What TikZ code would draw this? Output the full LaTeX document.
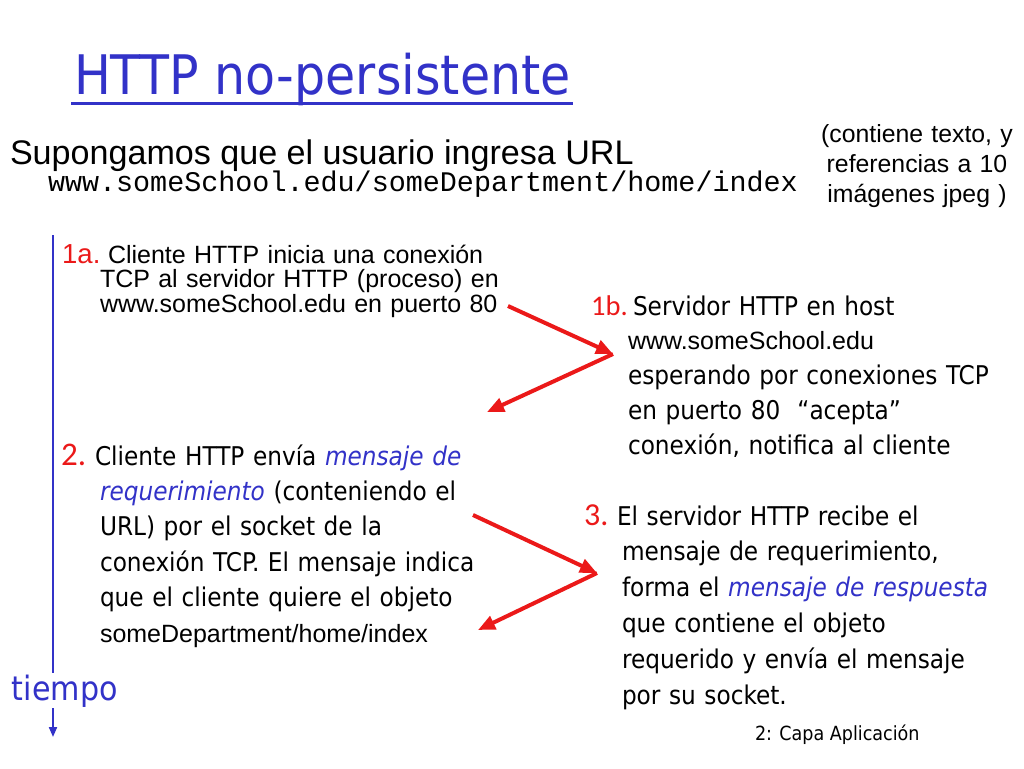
\documentclass[tikz,border=0pt]{standalone}
\usepackage{fontspec}
\usetikzlibrary{arrows.meta}
\setmainfont{Liberation Sans}
\newfontfamily\comic{DejaVu Sans Condensed}[ItalicFont={DejaVu Sans Condensed Oblique}]
\newfontfamily\arial{Liberation Sans}
\newfontfamily\cour{Liberation Mono}
\newfontfamily\calib{Carlito}
\definecolor{myblue}{RGB}{50,50,200}
\definecolor{myred}{RGB}{235,25,25}
\newcommand{\fs}[2]{\fontsize{#1}{#2}\selectfont}
\begin{document}
\begin{tikzpicture}[x=1pt,y=-1pt,
  plain/.style={anchor=base west, inner sep=0pt, outer sep=0pt},
  block/.style={anchor=base west, inner sep=0pt, outer sep=0pt, text width=430pt, align=left},
  numlbl/.style={anchor=base west, inner sep=0pt, text=myred},
  redarrow/.style={draw=myred, line width=4pt, -{Triangle[length=17pt,width=14pt]}},
  timeline/.style={draw=myblue, line width=2pt}]
\useasboundingbox[fill=white] (0,0) rectangle (1024,768);

% title
\node[plain, text=myblue, font={\comic\fs{54.5}{60}}] (title) at (74,94) {HTTP no-persistente};
\draw[myblue, line width=3pt] ([xshift=-3pt,yshift=-9pt]title.base west) -- ([xshift=2pt,yshift=-9pt]title.base east);

% intro
\node[plain, font={\arial\fs{34.1}{40}}] (intro) at (10,164) {Supongamos que el usuario ingresa URL};
\node[plain, font={\cour\fs{28.4}{32}}] (url) at (48,191) {www.someSchool.edu/someDepartment/home/index};
\node[anchor=base, inner sep=0pt, text width=240pt, align=center, font={\arial\fs{24.8}{30}}] (note) at (917,142)
  {(contiene texto, y\\referencias a 10\\imágenes jpeg )};

% 1a
\node[numlbl, font={\arial\fs{27.5}{25}}] (n1a) at (62,263) {1a.};
\node[block, font={\arial\fs{25}{24.5}}] (t1a) at (100,263)
  {\hspace*{8pt}Cliente HTTP inicia una conexión\\
   TCP al servidor HTTP (proceso) en\\
   www.someSchool.edu en puerto 80};

% 1b
\node[numlbl, font={\calib\fs{28.5}{28}}] (n1b) at (591,315) {1b.};
\node[block, font={\comic\fs{25.8}{34.8}}] (t1b) at (628,315)
  {\hspace*{5pt}Servidor HTTP en host\\
   {\arial\fs{25}{34.8}www.someSchool.edu}\\
   esperando por conexiones TCP\\
   en puerto 80\ \ “acepta”\\
   conexión, notifica al cliente};

% 2
\node[numlbl, font={\calib\fs{33}{28}}] (n2) at (61,465) {2.};
\node[block, font={\comic\fs{25.8}{35.4}}] (t2) at (100,465)
  {\hspace*{-5pt}Cliente HTTP envía \textcolor{myblue}{\itshape mensaje de}\\
   \textcolor{myblue}{\itshape requerimiento} (conteniendo el\\
   URL) por el socket de la\\
   conexión TCP. El mensaje indica\\
   que el cliente quiere el objeto\\
   {\arial\fs{25}{35.4}someDepartment/home/index}};

% 3
\node[numlbl, font={\calib\fs{32}{28}}] (n3) at (584,525) {3.};
\node[block, font={\comic\fs{25.8}{35.8}}] (t3) at (622,525)
  {\hspace*{-5pt}El servidor HTTP recibe el\\
   mensaje de requerimiento,\\
   forma el \textcolor{myblue}{\itshape mensaje de respuesta}\\
   que contiene el objeto\\
   requerido y envía el mensaje\\
   por su socket.};

% footer
\node[plain, font={\comic\fs{19.5}{22}}] (foot) at (755,740) {2: Capa Aplicación};

% time axis
\node[plain, text=myblue, font={\comic\fs{33.5}{36}}] (tiempo) at (12,700) {tiempo};
\coordinate (tl1) at (53,235);
\coordinate (tl2) at (53,673);
\coordinate (tl3) at (53,708);
\coordinate (tl4) at (53,737);
\draw[timeline] (tl1) -- (tl2);
\draw[timeline, -{Triangle[length=10pt,width=8pt]}] (tl3) -- (tl4);

% red arrows
\coordinate (a1s) at (508,306);
\coordinate (a1v) at (613,354);
\coordinate (a1e) at (487,412);
\draw[redarrow] (a1s) -- (a1v);
\draw[redarrow] (a1v) -- (a1e);
\coordinate (a2s) at (473,515);
\coordinate (a2v) at (597,573);
\coordinate (a2e) at (478,630);
\draw[redarrow] (a2s) -- (a2v);
\draw[redarrow] (a2v) -- (a2e);
\end{tikzpicture}
\end{document}
